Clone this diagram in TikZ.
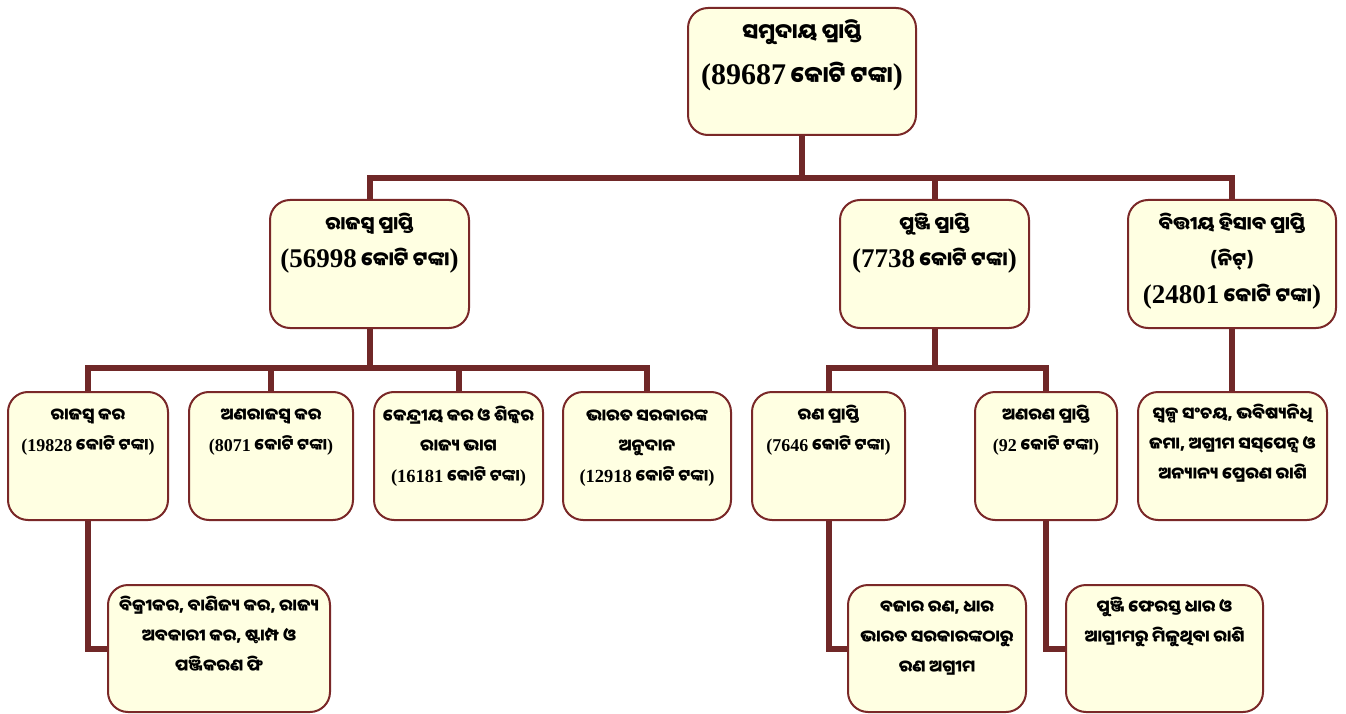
\documentclass[tikz,border=0pt]{standalone}
\usepackage{fontspec}
\newfontfamily\odia[Script=Oriya]{Noto Sans Oriya UI}
\newfontfamily\numf{Liberation Serif}
\definecolor{boxfill}{RGB}{255,255,226}
\definecolor{boxline}{RGB}{122,40,40}
\definecolor{linkline}{RGB}{112,40,40}
% box contents: width, height, first baseline, lines
\newcommand{\panel}[4]{\parbox[c][#2][t]{#1}{\centering\rule{0pt}{#3}#4}}
% amounts: digit size, word size, value
\newcommand{\nm}[2]{{\numf\bfseries\fontsize{#1}{#1}\selectfont #2}}
\newcommand{\koti}[3]{\nm{#1}{(#3} {\fontsize{#2}{#2}\selectfont କୋଟି ଟଙ୍କା}\nm{#1}{)}}
\newcommand{\topsize}{\odia\bfseries\fontsize{21}{44}\selectfont}
\newcommand{\midsize}{\odia\bfseries\fontsize{18.5}{36}\selectfont}
\newcommand{\lowsize}{\odia\bfseries\fontsize{16.5}{30}\selectfont}
\tikzset{
    box/.style={draw=boxline, fill=boxfill, line width=2pt, rounded corners=20pt, inner sep=0pt},
    link/.style={draw=linkline, line width=6pt},
    vh/.style={to path={-| (\tikztotarget)}},
    hv/.style={to path={|- (\tikztotarget)}},
}

\begin{document}
\begin{tikzpicture}[x=1pt, y=-1pt]
    \useasboundingbox (0,0) rectangle (1346,714);
    % junctions
    \coordinate (j1) at (802,178);
    \coordinate (j2) at (369.5,368);
    \coordinate (j3) at (934.5,368);
    % Transitions
    \path[link]
        (802,135) edge (j1)
        (j1)
            edge [vh] (369.5,200)
            edge [vh] (934.5,200)
            edge [vh] (1232,200)
        (369.5,328) edge (j2)
        (j2)
            edge [vh] (88,392)
            edge [vh] (271,392)
            edge [vh] (458.5,392)
            edge [vh] (647,392)
        (934.5,328) edge (j3)
        (j3)
            edge [vh] (828.5,392)
            edge [vh] (1046,392)
        (1232,328) edge (1232,392)
        (88,520) edge [hv] (108,648.5)
        (828.5,520) edge [hv] (848,648.5)
        (1046,520) edge [hv] (1066,648.5)
        ;
    % top
    \node[box](total) at (802,71.5) {\panel{228pt}{127pt}{33pt}{\topsize
        ସମୁଦାୟ ପ୍ରାପ୍ତି\\\koti{30}{22.5}{89687}}};
    % second row
    \node[box](rev) at (369.5,264) {\panel{199pt}{128pt}{31pt}{\midsize
        ରାଜସ୍ୱ ପ୍ରାପ୍ତି\\\koti{27}{19.5}{56998}}};
    \node[box](cap) at (934.5,264) {\panel{189pt}{128pt}{31pt}{\midsize
        ପୁଞ୍ଜି ପ୍ରାପ୍ତି\\\koti{27}{19.5}{7738}}};
    \node[box](fin) at (1232,264) {\panel{208pt}{128pt}{31pt}{\midsize
        ବିତ୍ତୀୟ ହିସାବ ପ୍ରାପ୍ତି\\(ନିଟ୍)\\\koti{27}{19.5}{24801}}};
    % third row
    \node[box](taxrev) at (88,456) {\panel{160pt}{128pt}{29pt}{\lowsize
        ରାଜସ୍ୱ କର\\\koti{18}{16}{19828}}};
    \node[box](nontax) at (271,456) {\panel{164pt}{128pt}{29pt}{\lowsize
        ଅଣରାଜସ୍ୱ କର\\\koti{18}{16}{8071}}};
    \node[box](share) at (458.5,456) {\panel{169pt}{128pt}{30pt}{\lowsize
        କେନ୍ଦ୍ରୀୟ କର ଓ ଶିଳ୍କର\\ରାଜ୍ୟ ଭାଗ\\\koti{18.5}{16}{16181}}};
    \node[box](grant) at (647,456) {\panel{168pt}{128pt}{30pt}{\lowsize
        ଭାରତ ସରକାରଙ୍କ\\ଅନୁଦାନ\\\koti{18.5}{16}{12918}}};
    \node[box](debt) at (828.5,456) {\panel{153pt}{128pt}{29pt}{\lowsize
        ରଣ ପ୍ରାପ୍ତି\\\koti{18}{16}{7646}}};
    \node[box](nondebt) at (1046,456) {\panel{142pt}{128pt}{29pt}{\lowsize
        ଅଣରଣ ପ୍ରାପ୍ତି\\\koti{18}{16}{92}}};
    \node[box](public) at (1232.5,456) {\panel{189pt}{128pt}{28pt}{\lowsize
        ସ୍ୱଳ୍ପ ସଂଚୟ, ଭବିଷ୍ୟନିଧି\\ଜମା, ଅଗ୍ରୀମ ସସ୍‌ପେନ୍ସ ଓ\\ଅନ୍ୟାନ୍ୟ ପ୍ରେରଣ ରାଶି}};
    % fourth row
    \node[box](taxlist) at (219,648.5) {\panel{222pt}{127pt}{27pt}{\lowsize
        ବିକ୍ରୀକର, ବାଣିଜ୍ୟ କର, ରାଜ୍ୟ\\ଅବକାରୀ କର, ଷ୍ଟାମ୍ପ ଓ\\ପଞ୍ଜିକରଣ ଫି}};
    \node[box](loans) at (937,648.5) {\panel{178pt}{127pt}{28pt}{\lowsize
        ବଜାର ରଣ, ଧାର\\ଭାରତ ସରକାରଙ୍କଠାରୁ\\ରଣ ଅଗ୍ରୀମ}};
    \node[box](recov) at (1164.5,648.5) {\panel{197pt}{127pt}{28pt}{\lowsize
        ପୁଞ୍ଜି ଫେରସ୍ତ ଧାର ଓ\\ଆଗ୍ରୀମରୁ ମିଳୁଥିବା ରାଶି}};
\end{tikzpicture}
\end{document}
